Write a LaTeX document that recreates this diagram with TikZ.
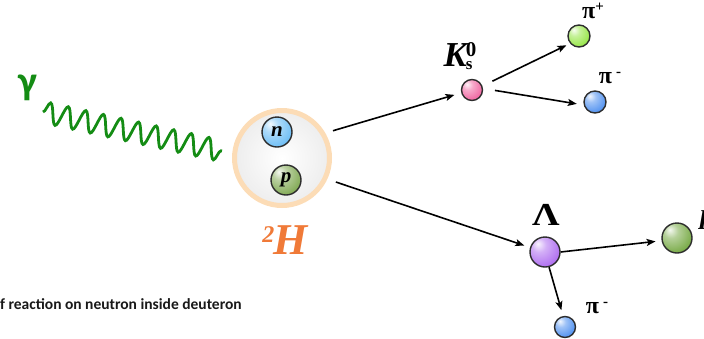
\documentclass[tikz,border=0pt]{standalone}
\usepackage{fontspec}
\setmainfont{Liberation Serif}
\newfontfamily\calib{Carlito}
\usetikzlibrary{arrows.meta,decorations.pathmorphing}
\definecolor{gammagreen}{RGB}{20,140,20}
\definecolor{dring}{RGB}{252,220,182}
\definecolor{horange}{RGB}{240,122,56}
\definecolor{bborder}{RGB}{45,45,45}
\definecolor{nblue}{RGB}{110,190,245}
\definecolor{pgreen}{RGB}{130,170,85}
\definecolor{kpink}{RGB}{240,100,160}
\definecolor{pipgreen}{RGB}{150,230,70}
\definecolor{pimblue}{RGB}{80,145,240}
\definecolor{lpurple}{RGB}{175,110,240}
\definecolor{prgreen}{RGB}{120,170,70}
\colorlet{bcol}{red}
\pgfdeclareradialshading[bcol]{myball}{\pgfqpoint{-12bp}{14bp}}{%
  color(0bp)=(bcol!8!white); color(12bp)=(bcol!55!white);
  color(34bp)=(bcol); color(55bp)=(bcol!85!black); color(80bp)=(bcol!75!black)}
\tikzset{
  ball/.style={circle, draw=bborder, line width=1.4pt, inner sep=0pt,
    minimum size=#1, shading=myball},
  bc/.style={/utils/exec={\colorlet{bcol}{#1}}},
  arr/.style={line width=1.6pt, -{Stealth[length=9pt,width=7pt,inset=2pt]}},
  wave/.style={gammagreen, line width=2.8pt, decorate,
    decoration={snake, segment length=18pt, amplitude=10.5pt}},
  lab/.style={inner sep=0pt, font=\bfseries},
  pilab/.style={inner sep=0pt, font=\bfseries\fontsize{24}{24}\selectfont},
}
\begin{document}
\begin{tikzpicture}[x=1pt,y=-1pt]
\useasboundingbox (0,0) rectangle (704,338);
\clip (0,0) rectangle (704,338);
% photon
\node[lab, text=gammagreen, font=\calib\bfseries\fontsize{40}{40}\selectfont] (gam) at (28,88) {γ};
\coordinate (w1) at (43,112);
\coordinate (w2) at (222,151);
\draw[wave] (w1) -- (w2);
% deuteron
\node[circle, draw=dring, line width=5pt, minimum size=95pt, inner sep=0pt,
  shading=radial, inner color=white, outer color=black!7] (D) at (282,158) {};
\node[ball=30pt, bc=nblue, shade] (n) at (277,132) {\bfseries\itshape\fontsize{21}{21}\selectfont n};
\node[ball=30pt, bc=pgreen, shade] (p) at (286,180) {\bfseries\itshape\fontsize{21}{21}\selectfont p};
\node[lab, text=horange, font=\bfseries\itshape\fontsize{44}{44}\selectfont] (H) at (285,240)
  {\raisebox{12pt}{\fontsize{24}{24}\selectfont 2}\kern-1pt H};
% K0s
\node[ball=21pt, bc=kpink, shade] (K) at (472,90) {};
\node[lab, font=\bfseries\fontsize{35}{35}\selectfont] (Klab) at (458,56)
  {\itshape K\kern-1pt\upshape\rlap{\raisebox{10pt}{\fontsize{21}{21}\selectfont 0}}\raisebox{-3pt}{\fontsize{17}{17}\selectfont s}};
\node[ball=22pt, bc=pipgreen, shade] (pip) at (579,36) {};
\node[pilab] (piplab) at (593,11) {π\raisebox{7pt}{\fontsize{15}{15}\selectfont +}};
\node[ball=22pt, bc=pimblue, shade] (pim1) at (595,102) {};
\node[pilab] (pim1lab) at (610,78) {π\,\raisebox{7pt}{\fontsize{15}{15}\selectfont -}};
% Lambda
\node[ball=30pt, bc=lpurple, shade] (L) at (545,252) {};
\node[lab, xscale=1.2, font=\bfseries\fontsize{32}{32}\selectfont] (Llab) at (546,215) {Λ};
\node[ball=30pt, bc=prgreen, shade] (pr) at (677,238) {};
\node[lab, anchor=west, font=\bfseries\itshape\fontsize{28}{28}\selectfont] (prlab) at (700,220) {p};
\node[ball=21pt, bc=pimblue, shade] (pim2) at (565,327) {};
\node[pilab] (pim2lab) at (597,308) {π\,\raisebox{7pt}{\fontsize{15}{15}\selectfont -}};
% arrows
\draw[arr, shorten <=8pt, shorten >=7pt] (D.30) -- (K.195);
\draw[arr, shorten <=9pt, shorten >=6pt] (D.-25) -- (L.163);
\draw[arr, shorten <=11pt, shorten >=4pt] (K.21) -- (pip.220);
\draw[arr, shorten <=12pt, shorten >=7pt] (K.8) -- (pim1.195);
\draw[arr, shorten >=6pt] (L.0) -- (pr.190);
\draw[arr, shorten >=6pt] (L.-75) -- (pim2.100);
% caption
\node[anchor=base west, inner sep=0pt, font=\calib\bfseries\fontsize{15.5}{15.5}\selectfont, text=black!90] (cap) at (0,309)
  {f reaction on neutron inside deuteron};
\end{tikzpicture}
\end{document}
